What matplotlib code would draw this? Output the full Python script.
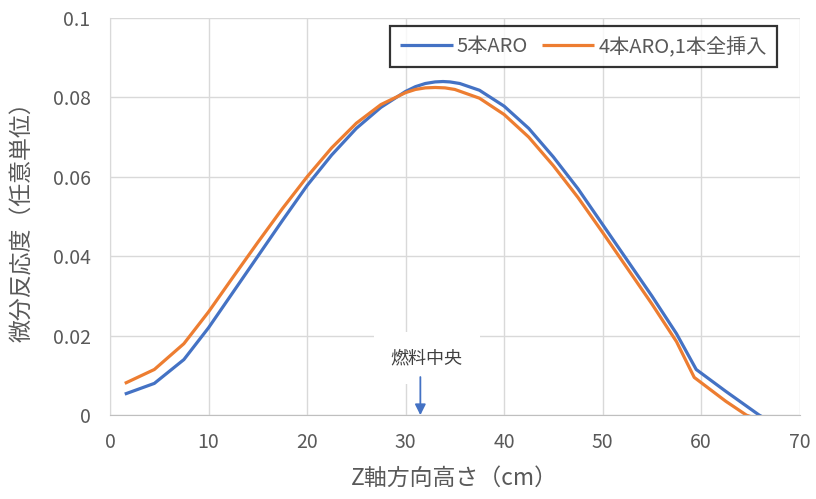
import matplotlib.pyplot as plt
import numpy as np

plt.rcParams['font.family'] = ['Noto Sans CJK JP', 'DejaVu Sans']

# Z-axis height (cm)
z_blue = [1.5, 4.5, 7.5, 10, 12.5, 15, 17.5, 20, 22.5, 25, 27.5, 30, 31, 32, 33, 33.8, 34.5, 35.5, 37.5,
          40, 42.5, 45, 47.5, 50, 52.5, 55, 57.5, 59.5, 62.5, 65.9, 67]
blue = [0.0053, 0.0080, 0.0140, 0.0220, 0.0310, 0.0400, 0.0490, 0.0578, 0.0655, 0.0722, 0.0775,
        0.0815, 0.0827, 0.0835, 0.0839, 0.0840, 0.0839, 0.0835, 0.0818, 0.0778, 0.0722, 0.0650,
        0.0570, 0.0480, 0.0390, 0.0300, 0.0205, 0.0115, 0.0060, 0.0, -0.0015]
z_orange = [1.5, 4.5, 7.5, 10, 12.5, 15, 17.5, 20, 22.5, 25, 27.5, 30, 31, 32, 33, 34, 35, 37.5,
            40, 42.5, 45, 47.5, 50, 52.5, 55, 57.5, 59.3, 62.5, 64.6, 66]
orange = [0.0080, 0.0115, 0.0180, 0.0260, 0.0348, 0.0435, 0.0520, 0.0600, 0.0673, 0.0735, 0.0782,
          0.0812, 0.0820, 0.0824, 0.0825, 0.0824, 0.0820, 0.0798, 0.0757, 0.0700, 0.0628, 0.0548,
          0.0460, 0.0370, 0.0280, 0.0185, 0.0095, 0.0035, 0.0, -0.0012]

yticks = [0, 0.02, 0.04, 0.06, 0.08, 0.1]
ytick_labels = ['0', '0.02', '0.04', '0.06', '0.08', '0.1']
xticks = [0, 10, 20, 30, 40, 50, 60, 70]

BLUE = '#4472C4'
ORANGE = '#ED7D31'
GRAY = '#595959'

fig = plt.figure(figsize=(8.16, 4.99), dpi=100)
ax = fig.add_axes([0.1348, 0.168, 0.8452, 0.796])

ax.plot(z_blue, blue, color=BLUE, lw=2.3, label='5本ARO', solid_capstyle='butt')
ax.plot(z_orange, orange, color=ORANGE, lw=2.3, label='4本ARO,1本全挿入', solid_capstyle='butt')

ax.set_xlim(0, 70)
ax.set_ylim(0, 0.1)
ax.set_xticks(xticks)
ax.set_yticks(yticks)
ax.set_yticklabels(ytick_labels)
ax.grid(True, color='#D9D9D9', lw=1)
ax.set_axisbelow(True)
for s in ['top', 'right']:
    ax.spines[s].set_visible(False)
ax.spines['left'].set_color('#D9D9D9')
ax.spines['bottom'].set_color('#BFBFBF')
ax.tick_params(length=0, colors=GRAY, labelsize=14)
ax.tick_params(axis='y', pad=14)
ax.tick_params(axis='x', pad=12)

ax.set_xlabel('Z軸方向高さ（cm）', color=GRAY, fontsize=16.5, labelpad=10)
ax.set_ylabel('微分反応度（任意単位）', color=GRAY, fontsize=16.5, labelpad=13)

ax.text(32.15, 0.0144, '燃料中央', ha='center', va='center', fontsize=13, color='#404040',
        bbox=dict(boxstyle='square,pad=0.95', fc='white', ec='none'), zorder=4)
ax.annotate('', xy=(31.5, 0), xytext=(31.5, 0.0096),
            arrowprops=dict(arrowstyle='-|>', color=BLUE, lw=1.3, mutation_scale=16,
                            shrinkA=0, shrinkB=0), zorder=5)

leg = ax.legend(loc='upper right', bbox_to_anchor=(0.967, 0.98), ncol=2, fontsize=14.5,
                frameon=True, fancybox=False, handlelength=2.6, columnspacing=0.7,
                handletextpad=0.2, borderpad=0.5, borderaxespad=0)
leg.get_frame().set_edgecolor('black')
leg.get_frame().set_linewidth(1.6)
for t in leg.get_texts():
    t.set_color(GRAY)

fig.savefig('out.png', dpi=100)
